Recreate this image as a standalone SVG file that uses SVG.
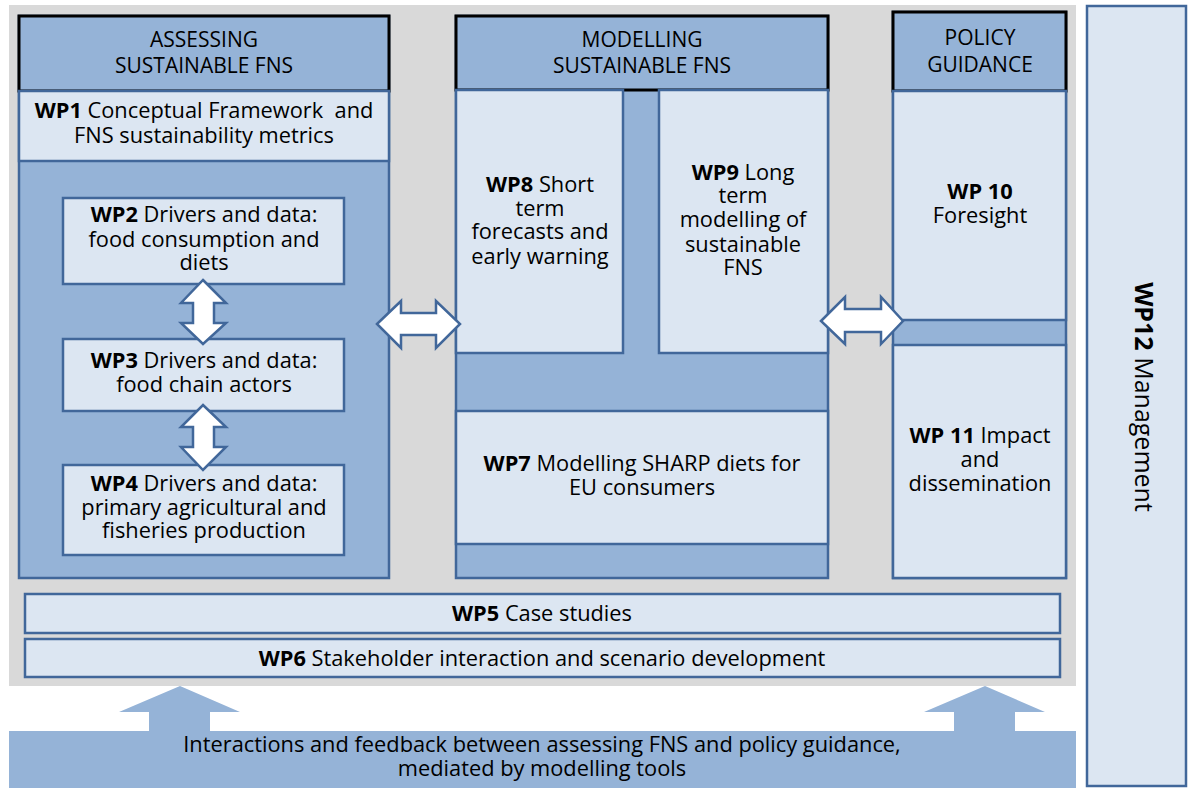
<svg xmlns="http://www.w3.org/2000/svg" width="1190" height="788" viewBox="0 0 1190 788">
<style>
  .bg{fill:#D9D9D9}
  .mid{fill:#95B3D7;stroke:#41679A;stroke-width:2.5}
  .lt{fill:#DCE6F2;stroke:#41679A;stroke-width:2.5}
  .hdr{fill:#95B3D7;stroke:#000;stroke-width:3}
  .arr{fill:#fff;stroke:#41679A;stroke-width:2.5;stroke-linejoin:miter}
  .band{fill:#95B3D7}
  text{font-family:"Open Sans","Liberation Sans",sans-serif;font-size:21.8px;fill:#000;text-anchor:middle}
  .h{font-size:21px}
  .b{font-weight:bold}
</style>
<rect class="bg" x="9" y="5" width="1067" height="681"/>
<g id="wp12">
  <rect class="lt" x="1087" y="6" width="99" height="780"/>
  <text transform="translate(1135,397) rotate(90)" style="font-size:25px"><tspan class="b">WP12</tspan> Management</text>
</g>
<g id="assessing">
  <rect class="mid" x="19" y="16" width="370" height="562"/>
  <rect class="hdr" x="19" y="16" width="370" height="75"/>
  <text class="h" x="204" y="47">ASSESSING</text>
  <text class="h" x="204" y="73">SUSTAINABLE FNS</text>
</g>
<g id="wp1">
  <rect class="lt" x="19" y="91" width="370" height="70"/>
  <text x="204" y="118" xml:space="preserve"><tspan class="b">WP1</tspan> Conceptual Framework  and</text>
  <text x="204" y="143">FNS sustainability metrics</text>
</g>
<g id="wp2">
  <rect class="lt" x="63" y="198" width="281" height="86"/>
  <text x="204" y="222"><tspan class="b">WP2</tspan> Drivers and data:</text>
  <text x="204" y="247">food consumption and</text>
  <text x="204" y="270">diets</text>
</g>
<g id="wp3">
  <rect class="lt" x="63" y="339" width="281" height="72"/>
  <text x="204" y="368"><tspan class="b">WP3</tspan> Drivers and data:</text>
  <text x="204" y="392">food chain actors</text>
</g>
<g id="wp4">
  <rect class="lt" x="63" y="465" width="281" height="90"/>
  <text x="204" y="491"><tspan class="b">WP4</tspan> Drivers and data:</text>
  <text x="204" y="515">primary agricultural and</text>
  <text x="204" y="538">fisheries production</text>
</g>
<g id="modelling">
  <rect class="mid" x="456" y="16" width="372" height="562"/>
  <rect class="hdr" x="456" y="16" width="372" height="74"/>
  <text class="h" x="642" y="47">MODELLING</text>
  <text class="h" x="642" y="73">SUSTAINABLE FNS</text>
</g>
<g id="wp8">
  <rect class="lt" x="456" y="90" width="167" height="263"/>
  <text x="540" y="192"><tspan class="b">WP8</tspan> Short</text>
  <text x="540" y="216">term</text>
  <text x="540" y="239">forecasts and</text>
  <text x="540" y="264">early warning</text>
</g>
<g id="wp9">
  <rect class="lt" x="659" y="90" width="169" height="263"/>
  <text x="743" y="180"><tspan class="b">WP9</tspan> Long</text>
  <text x="743" y="203">term</text>
  <text x="743" y="227">modelling of</text>
  <text x="743" y="252">sustainable</text>
  <text x="743" y="275">FNS</text>
</g>
<g id="wp7">
  <rect class="lt" x="456" y="411" width="372" height="133"/>
  <text x="642" y="471"><tspan class="b">WP7</tspan> Modelling SHARP diets for</text>
  <text x="642" y="495">EU consumers</text>
</g>
<g id="policy">
  <rect class="mid" x="893" y="12" width="173" height="566"/>
  <rect class="hdr" x="893" y="12" width="173" height="79"/>
  <text class="h" x="980" y="45">POLICY</text>
  <text class="h" x="980" y="72">GUIDANCE</text>
</g>
<g id="wp10">
  <rect class="lt" x="893" y="91" width="173" height="229"/>
  <text x="980" y="199" class="b">WP 10</text>
  <text x="980" y="223">Foresight</text>
</g>
<g id="wp11">
  <rect class="lt" x="893" y="345" width="173" height="233"/>
  <text x="980" y="443"><tspan class="b">WP 11</tspan> Impact</text>
  <text x="980" y="467">and</text>
  <text x="980" y="491">dissemination</text>
</g>
<g id="wp5">
  <rect class="lt" x="25" y="594" width="1035" height="39"/>
  <text x="542" y="621"><tspan class="b">WP5</tspan> Case studies</text>
</g>
<g id="wp6">
  <rect class="lt" x="25" y="639" width="1035" height="38"/>
  <text x="542" y="666"><tspan class="b">WP6</tspan> Stakeholder interaction and scenario development</text>
</g>
<g id="interactions">
  <rect class="band" x="9" y="731" width="1067" height="57"/>
  <text x="542" y="752">Interactions and feedback between assessing FNS and policy guidance,</text>
  <text x="542" y="776">mediated by modelling tools</text>
</g>
<g id="connectors">
  <path class="arr" d="M203,280 L226,303 L214,303 L214,323 L226,323 L203,344 L181,323 L193,323 L193,303 L181,303 Z"/>
  <path class="arr" d="M203,405 L226,427 L214,427 L214,447 L226,447 L203,470 L181,447 L193,447 L193,427 L181,427 Z"/>
  <path class="arr" d="M377,324 L401,301 L401,313 L436,313 L436,301 L460,324 L436,348 L436,335 L401,335 L401,348 Z"/>
  <path class="arr" d="M821,321 L845,297 L845,309 L881,309 L881,297 L903,321 L881,344 L881,332 L845,332 L845,344 Z"/>
  <path class="band" d="M180,686 L240,712 L210,712 L210,732 L149,732 L149,712 L119,712 Z"/>
  <path class="band" d="M985,686 L1045,712 L1015,712 L1015,732 L954,732 L954,712 L924,712 Z"/>
</g>
</svg>
